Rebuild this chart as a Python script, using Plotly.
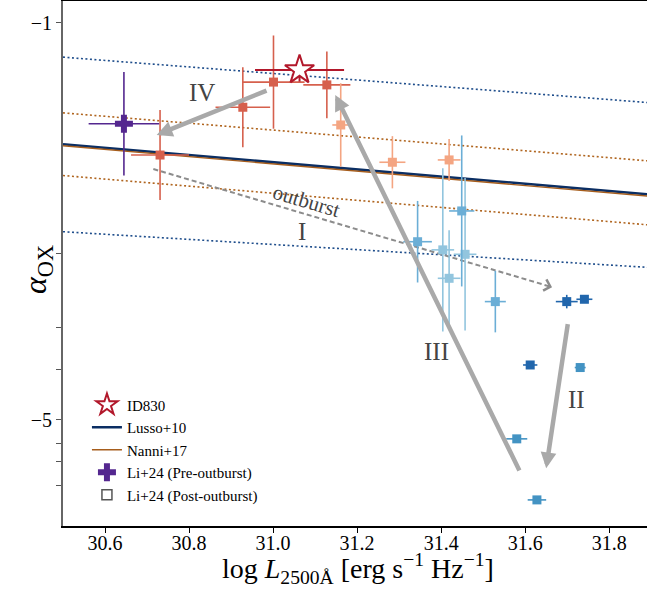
import plotly.graph_objects as go

# ---------------- data ----------------
# post-outburst monitoring points (log L2500, alpha_OX) and errors
logL_post = [31.001, 31.128, 30.928, 30.731, 31.161, 31.284, 31.419, 31.344, 31.404, 31.419,
             31.449, 31.457, 31.529, 31.699, 31.741, 31.612, 31.731, 31.580, 31.628]
logL_post_err = [0.074, 0.056, 0.065, 0.069, 0.020, 0.031, 0.027, 0.034, 0.027, 0.027,
                 0.030, 0.027, 0.025, 0.026, 0.019, 0.017, 0.013, 0.025, 0.022]
aox_post = [-1.254, -1.266, -1.362, -1.567, -1.438, -1.598, -1.588, -1.939, -1.974, -2.096,
            -1.807, -1.993, -2.196, -2.196, -2.186, -2.468, -2.479, -2.785, -3.047]
aox_post_err = [0.200, 0.143, 0.172, 0.193, 0.179, 0.112, 0.090, 0.175, 0.350, 0.206,
                0.324, 0.327, 0.132, 0.029, 0.010, 0.010, 0.010, 0.010, 0.010]
post_group = [0, 0, 0, 0, 1, 1, 1, 3, 2, 2, 3, 2, 3, 5, 5, 5, 4, 4, 4]
group_colors = ["#d6604d", "#f4a582", "#92c5de", "#6baed6", "#4393c3", "#2166ac"]

# pre-outburst point
logL_pre = [30.645]
logL_pre_err = [0.084]
aox_pre = [-1.433]
aox_pre_err = [0.222]

# ID830
logL_id = [31.063]
logL_id_err = [0.106]
aox_id = [-1.202]
aox_id_err = [0.05]

# relations: (slope, intercept)
lusso = (-0.154, 3.176)
nanni = (-0.155, 3.200)
lusso_band = [(-0.140, 3.123), (-0.110, 1.459)]
nanni_band = [(-0.148, 3.128), (-0.152, 2.981)]
x_line = [30.5, 31.9]

# evolution arrows: (x_tail, y_tail, x_tip, y_tip)
arrows_solid = [(30.988, -1.288, 30.723, -1.481),   # IV
                (31.588, -2.927, 31.148, -1.309),   # III
                (31.702, -2.286, 31.650, -2.911)]   # II
arrow_dashed = (30.715, -1.627, 31.664, -2.134)     # I (outburst)
arrow_labels = [("IV", 30.831, -1.300), ("I", 31.069, -1.897),
                ("III", 31.390, -2.412), ("II", 31.721, -2.614)]
outburst_label = ("outburst", 31.079, -1.764)

# axis ticks
x_ticks = [30.6, 30.8, 31.0, 31.2, 31.4, 31.6, 31.8]
y_ticks = [-1.0, -1.991, -2.309, -2.489, -2.704, -2.803, -2.884, -2.987]
y_ticktext = ["\u22121", "", "", "", "\u22125", "", "", ""]

FONT = "Liberation Serif, Times New Roman, serif"

fig = go.Figure()

def line_y(rel):
    return [rel[0] * x + rel[1] for x in x_line]

for rel in lusso_band:
    fig.add_trace(go.Scatter(x=x_line, y=line_y(rel), mode="lines",
                             line=dict(color="#1f4e8c", width=1.6, dash="2px,2.5px"),
                             showlegend=False, hoverinfo="skip"))
for rel in nanni_band:
    fig.add_trace(go.Scatter(x=x_line, y=line_y(rel), mode="lines",
                             line=dict(color="#b0651f", width=1.6, dash="2px,2.5px"),
                             showlegend=False, hoverinfo="skip"))

fig.add_trace(go.Scatter(x=x_line, y=line_y(lusso), mode="lines", name="Lusso+10",
                         line=dict(color="#0b2e63", width=2.6), legendrank=2))
fig.add_trace(go.Scatter(x=x_line, y=line_y(nanni), mode="lines", name="Nanni+17",
                         line=dict(color="#a65d1c", width=1.4), legendrank=3))

# dashed outburst arrow (line part)
fig.add_trace(go.Scatter(x=[arrow_dashed[0], arrow_dashed[2]], y=[arrow_dashed[1], arrow_dashed[3]],
                         mode="lines", line=dict(color="#8c8c8c", width=2, dash="5px,3px"),
                         showlegend=False, hoverinfo="skip"))

# post-outburst points by colour group
for g, col in enumerate(group_colors):
    idx = [i for i, gg in enumerate(post_group) if gg == g]
    fig.add_trace(go.Scatter(
        x=[logL_post[i] for i in idx], y=[aox_post[i] for i in idx], mode="markers",
        marker=dict(symbol="square", size=9, color=col),
        error_x=dict(type="data", array=[logL_post_err[i] for i in idx], color=col, thickness=1.6, width=0),
        error_y=dict(type="data", array=[aox_post_err[i] for i in idx], color=col, thickness=1.6, width=0),
        showlegend=False))

# pre-outburst
fig.add_trace(go.Scatter(x=logL_pre, y=aox_pre, mode="markers", name="Li+24 (Pre-outburst)",
                         marker=dict(symbol="cross", size=15, color="#54278f"),
                         error_x=dict(type="data", array=logL_pre_err, color="#54278f", thickness=1.6, width=0),
                         error_y=dict(type="data", array=aox_pre_err, color="#54278f", thickness=1.6, width=0),
                         legendrank=4))

# ID830
fig.add_trace(go.Scatter(x=logL_id, y=aox_id, mode="markers", name="ID830",
                         marker=dict(symbol="star", size=22, color="white",
                                     line=dict(color="#b2182b", width=2)),
                         error_x=dict(type="data", array=logL_id_err, color="#b2182b", thickness=2, width=0),
                         error_y=dict(type="data", array=aox_id_err, color="#b2182b", thickness=2, width=0),
                         legendrank=1))

# legend-only post-outburst symbol
fig.add_trace(go.Scatter(x=[None], y=[None], mode="markers", name="Li+24 (Post-outburst)",
                         marker=dict(symbol="square-open", size=10, color="#555555",
                                     line=dict(width=1.5)),
                         legendrank=5))

annotations = []
for (xt, yt, xh, yh) in arrows_solid:
    annotations.append(dict(x=xh, y=yh, ax=xt, ay=yt, xref="x", yref="y", axref="x", ayref="y",
                            text="", showarrow=True, arrowhead=2, arrowsize=0.7, arrowwidth=4.5,
                            arrowcolor="#a9a9a9", standoff=0, startstandoff=0))
# dashed arrow head
xt, yt, xh, yh = arrow_dashed
f = 0.985
annotations.append(dict(x=xh, y=yh, ax=xt + f * (xh - xt), ay=yt + f * (yh - yt),
                        xref="x", yref="y", axref="x", ayref="y", text="", showarrow=True,
                        arrowhead=4, arrowsize=1.4, arrowwidth=1.6, arrowcolor="#8c8c8c", standoff=0))
for (t, x, y) in arrow_labels:
    annotations.append(dict(x=x, y=y, xref="x", yref="y", text=t, showarrow=False,
                            font=dict(family=FONT, size=25, color="#444444")))
annotations.append(dict(x=outburst_label[1], y=outburst_label[2], xref="x", yref="y",
                        text=outburst_label[0], showarrow=False, textangle=16.5,
                        font=dict(family=FONT, size=21, color="#444444")))
# axis titles
annotations.append(dict(x=(358 - 63) / 584, y=(526 - 568) / 525, xref="paper", yref="paper",
                        xanchor="center", yanchor="middle",
                        text="log <i>L</i><sub>2500Å</sub> [erg s<sup>\u22121</sup> Hz<sup>\u22121</sup>]",
                        showarrow=False, font=dict(family=FONT, size=28, color="black")))
annotations.append(dict(x=(37 - 63) / 584, y=(526 - 270) / 525, xref="paper", yref="paper",
                        xanchor="center", yanchor="middle",
                        text="<i>α</i><sub>OX</sub>", textangle=-90,
                        showarrow=False, font=dict(family=FONT, size=32, color="black")))

fig.update_layout(
    width=647, height=591,
    margin=dict(l=63, r=0, t=1, b=65),
    paper_bgcolor="white", plot_bgcolor="white",
    font=dict(family=FONT, size=20, color="black"),
    annotations=annotations,
    legend=dict(x=0.041, y=0.262, xanchor="left", yanchor="top", bgcolor="rgba(0,0,0,0)",
                font=dict(family=FONT, size=15, color="black"), tracegroupgap=0),
    xaxis=dict(range=[30.5, 31.89], tickvals=x_ticks, tickformat=".1f", ticks="outside",
               ticklen=5, tickwidth=1.2, tickcolor="black", showgrid=False, zeroline=False,
               showline=True, linecolor="black", linewidth=1.6, mirror=True,
               ticklabelposition="outside", ticklabelstandoff=-7,
               tickfont=dict(family=FONT, size=20)),
    yaxis=dict(range=[-3.159, -0.906], tickvals=y_ticks, ticktext=y_ticktext, ticks="outside",
               ticklen=5, tickwidth=1.2, tickcolor="#555555", showgrid=False, zeroline=False,
               showline=True, linecolor="#666666", linewidth=1.8, mirror=False,
               tickfont=dict(family=FONT, size=20)),
)

fig.write_html("out.html")
